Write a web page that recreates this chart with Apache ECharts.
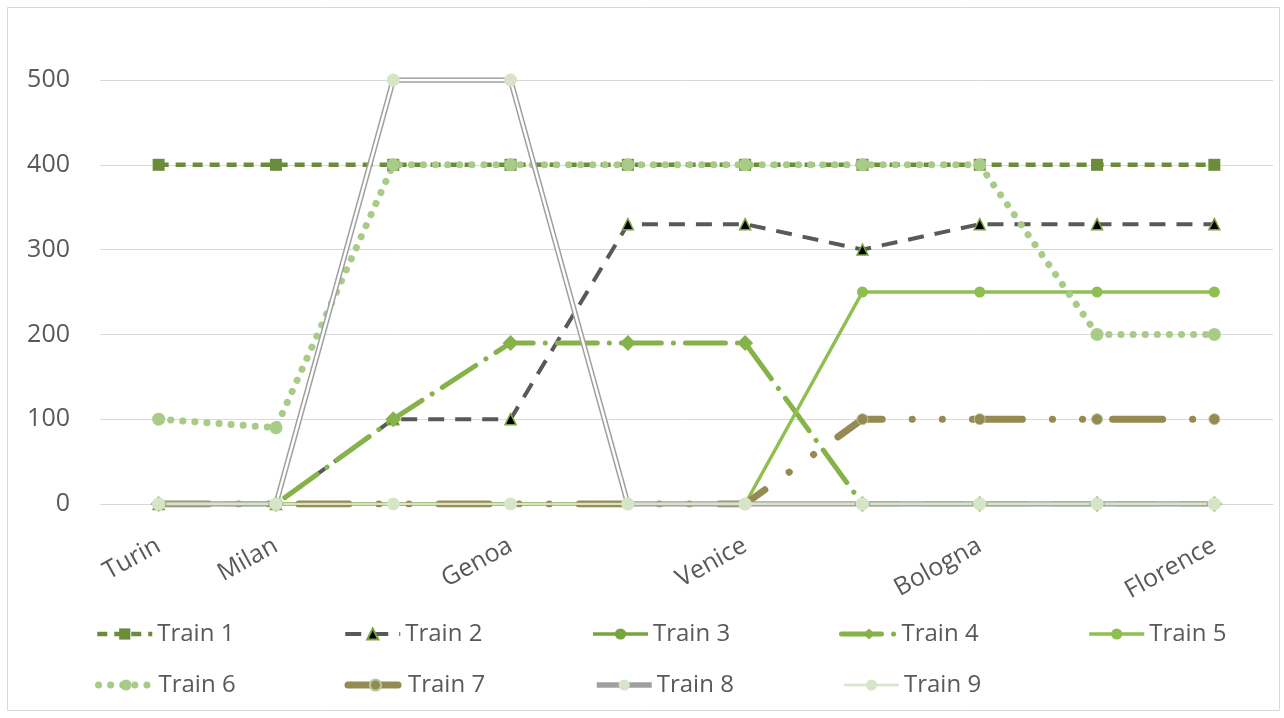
<!DOCTYPE html>
<html>
<head>
<meta charset="utf-8">
<title>Trains</title>
<script src="https://cdn.jsdelivr.net/npm/echarts@6/dist/echarts.min.js"></script>
<style>
  html, body { margin: 0; padding: 0; background: #fff; }
  #chart { width: 1284px; height: 718px; }
</style>
</head>
<body>
<div id="chart"></div>
<script>
// stations (blank slots are unlabeled stops)
const stations = ["Turin", "Milan", "", "Genoa", "", "Venice", "", "Bologna", "", "Florence"];
const yTicks = [0, 100, 200, 300, 400, 500];

const train1 = [400, 400, 400, 400, 400, 400, 400, 400, 400, 400];
const train2 = [0, 0, 100, 100, 330, 330, 300, 330, 330, 330];
const train3 = [0, 0, 0, 0, 0, 0, 0, 0, 0, 0];
const train4 = [0, 0, 100, 190, 190, 190, 0, 0, 0, 0];
const train5 = [0, 0, 0, 0, 0, 0, 250, 250, 250, 250];
const train6 = [100, 90, 400, 400, 400, 400, 400, 400, 200, 200];
const train7 = [0, 0, 0, 0, 0, 0, 100, 100, 100, 100];
const train8 = [0, 0, 500, 500, 0, 0, 0, 0, 0, 0];
const train9 = [0, 0, 0, 0, 0, 0, 0, 0, 0, 0];

const font = "'Open Sans', 'Noto Sans', sans-serif";
const textGrey = "#595959";

const chart = echarts.init(document.getElementById("chart"));

const legendBase = {
  left: 95,
  width: 1300,
  padding: 0,
  itemWidth: 55,
  itemHeight: 14,
  itemGap: 56,
  lineStyle: { width: "inherit" },
  textStyle: { fontFamily: font, fontSize: 24, color: textGrey, width: 130, lineHeight: 26 },
};

const option = {
  animation: false,
  backgroundColor: "#fff",
  graphic: [
    {
      type: "rect",
      shape: { x: 7.5, y: 7.5, width: 1272, height: 703 },
      style: { fill: "none", stroke: "#d9d9d9", lineWidth: 1 },
      silent: true,
    },
  ],
  grid: { left: 100, right: 11, top: 80, bottom: 214 },
  legend: [
    Object.assign({}, legendBase, { top: 621, data: ["Train 1", "Train 2", "Train 3", "Train 4", "Train 5"] }),
    Object.assign({}, legendBase, { top: 672, data: ["Train 6", "Train 7", "Train 8", "Train 9"] }),
  ],
  xAxis: {
    type: "category",
    data: stations,
    boundaryGap: true,
    axisLine: { show: true, lineStyle: { color: "#d9d9d9", width: 1 } },
    axisTick: { show: false },
    axisLabel: {
      interval: 0,
      rotate: 29,
      margin: 40,
      fontFamily: font,
      fontSize: 25,
      color: textGrey,
    },
  },
  yAxis: {
    type: "value",
    min: yTicks[0],
    max: yTicks[yTicks.length - 1],
    interval: 100,
    axisLine: { show: false },
    axisTick: { show: false },
    splitLine: { lineStyle: { color: "#d9d9d9", width: 1 } },
    axisLabel: { margin: 30, fontFamily: font, fontSize: 25, color: textGrey },
  },
  series: [
    {
      name: "Train 1",
      type: "line",
      data: train1,
      symbol: "rect",
      symbolSize: 12,
      itemStyle: { color: "#6B8C3A" },
      lineStyle: { color: "#6B8C3A", width: 4.5, type: [10, 7] },
    },
    {
      name: "Train 2",
      type: "line",
      data: train2,
      symbol: "triangle",
      symbolSize: 11,
      itemStyle: { color: "#000", borderColor: "#7AA340", borderWidth: 1.5 },
      lineStyle: { color: "#595959", width: 4, type: [16, 11] },
    },
    {
      name: "Train 3",
      type: "line",
      data: train3,
      symbol: "circle",
      symbolSize: 10,
      itemStyle: { color: "#76A540" },
      lineStyle: { color: "#76A540", width: 3.5 },
    },
    {
      name: "Train 4",
      type: "line",
      data: train4,
      symbol: "diamond",
      symbolSize: 16,
      itemStyle: { color: "#86B24A" },
      lineStyle: { color: "#86B24A", width: 5, type: [40, 12, 0.1, 12], cap: "round" },
    },
    {
      name: "Train 5",
      type: "line",
      data: train5,
      symbol: "circle",
      symbolSize: 11,
      itemStyle: { color: "#8FBF50" },
      lineStyle: { color: "#8FBF50", width: 3.5 },
    },
    {
      name: "Train 6",
      type: "line",
      data: train6,
      symbol: "circle",
      symbolSize: 13,
      itemStyle: { color: "#A8CC87" },
      lineStyle: { color: "#A8CC87", width: 7, type: [0.1, 12], cap: "round" },
    },
    {
      name: "Train 7",
      type: "line",
      data: train7,
      symbol: "circle",
      symbolSize: 11,
      itemStyle: { color: "#968A53", borderColor: "#B8C9A0", borderWidth: 1 },
      lineStyle: { color: "#968A53", width: 7, type: [50, 30, 0.1, 30, 0.1, 30], cap: "round" },
    },
    {
      name: "Train 8",
      type: "line",
      data: train8,
      symbol: "circle",
      symbolSize: 13,
      showSymbol: false,
      itemStyle: { color: "#D6E4C7" },
      lineStyle: { color: "#A0A0A0", width: 5.5 },
    },
    {
      // inner white stroke of the double line
      name: "Train 8 inner",
      type: "line",
      data: train8,
      symbol: "circle",
      symbolSize: 13,
      itemStyle: { color: "#D6E4C7" },
      lineStyle: { color: "#ffffff", width: 2.5 },
    },
    {
      name: "Train 9",
      type: "line",
      data: train9,
      symbol: "circle",
      symbolSize: 13,
      itemStyle: { color: "#D6E4C7" },
      lineStyle: { color: "#D6E4C7", width: 2.5 },
    },
  ],
};

chart.setOption(option);
</script>
</body>
</html>
